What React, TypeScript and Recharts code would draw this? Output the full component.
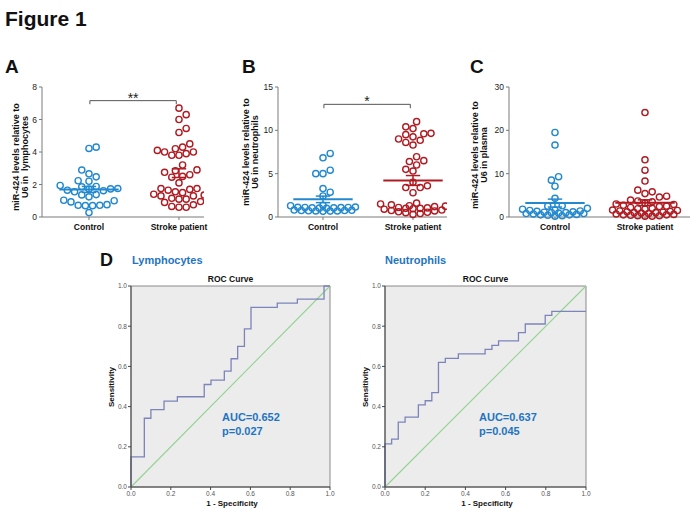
import React from 'react'
import {
  ScatterChart,
  Scatter,
  ComposedChart,
  Line,
  XAxis,
  YAxis,
  ReferenceLine,
  ReferenceDot,
  ReferenceArea,
} from 'recharts'

const GROUPS = ['Control', 'Stroke patient']

// A: lymphocytes
const LYMPH_CONTROL = [4.3, 4.22, 2.89, 2.66, 2.47, 2.23, 2.2, 1.94, 1.88, 1.86, 1.75, 1.73, 1.72, 1.65, 1.62, 1.55, 1.38, 1.36, 1.24, 1.03, 1.0, 0.93, 0.72, 0.7, 0.7, 0.72, 0.76, 0.27]
const LYMPH_STROKE = [6.7, 6.3, 6.0, 5.45, 5.2, 4.5, 4.3, 4.2, 4.1, 4.0, 4.0, 3.9, 3.8, 3.8, 3.2, 2.9, 2.85, 2.75, 2.6, 2.5, 2.45, 2.1, 1.75, 1.75, 1.7, 1.65, 1.55, 1.5, 1.4, 1.35, 1.3, 1.3, 1.15, 1.1, 1.1, 0.95, 0.9, 0.75, 0.65, 0.6, 0.6]
const LYMPH_TICKS = [0, 2, 4, 6, 8]

// B: neutrophils
const NEUT_CONTROL = [7.33, 6.83, 5.4, 5.0, 5.0, 3.28, 2.86, 2.43, 1.35, 1.3, 1.15, 1.12, 1.1, 1.1, 1.08, 1.05, 1.05, 1.02, 1.0, 0.8, 0.78, 0.75, 0.75, 0.72, 0.7, 0.7, 0.68, 0.65]
const NEUT_STROKE = [11.0, 10.4, 10.2, 9.65, 9.6, 9.5, 9.25, 9.0, 8.85, 8.6, 8.3, 6.95, 6.5, 6.4, 6.0, 5.5, 5.3, 4.0, 3.6, 3.4, 3.4, 2.8, 1.6, 1.5, 1.4, 1.3, 1.25, 1.2, 1.1, 1.05, 1.0, 1.0, 0.95, 0.9, 0.8, 0.75, 0.7, 0.6, 0.55, 0.5, 0.4, 0.3]
const NEUT_TICKS = [0, 5, 10, 15]

// C: plasma
const PLASMA_CONTROL = [19.5, 16.6, 9.3, 8.5, 7.1, 4.3, 2.6, 2.5, 2.0, 1.8, 1.6, 1.5, 1.4, 1.3, 1.2, 1.1, 1.0, 1.0, 0.9, 0.8, 0.8, 0.7, 0.6, 0.5, 0.5, 0.4, 0.3, 0.2]
const PLASMA_STROKE = [24.1, 13.2, 10.8, 8.3, 6.2, 5.8, 5.4, 4.8, 4.6, 3.9, 3.7, 3.5, 3.2, 3.0, 2.9, 2.7, 2.5, 2.4, 2.2, 2.0, 1.9, 1.8, 1.6, 1.5, 1.4, 1.3, 1.2, 1.1, 1.0, 1.0, 0.9, 0.8, 0.7, 0.6, 0.5, 0.5, 0.4, 0.3, 0.3, 0.2, 0.2]
const PLASMA_TICKS = [0, 10, 20, 30]

// D: ROC curves (1 - specificity, sensitivity)
const LYMPH_FPR = [0, 0, 0.067, 0.1, 0.166, 0.233, 0.368, 0.402, 0.469, 0.503, 0.536, 0.57, 0.603, 0.735, 0.836, 0.97, 1.0]
const LYMPH_TPR = [0, 0.15, 0.342, 0.385, 0.427, 0.449, 0.51, 0.532, 0.576, 0.638, 0.7, 0.787, 0.894, 0.915, 0.935, 1.0, 1.0]
const NEUT_FPR = [0, 0, 0.033, 0.066, 0.1, 0.166, 0.2, 0.233, 0.266, 0.3, 0.365, 0.498, 0.532, 0.565, 0.664, 0.698, 0.797, 0.83, 1.0]
const NEUT_TPR = [0, 0.215, 0.238, 0.323, 0.348, 0.409, 0.429, 0.47, 0.62, 0.64, 0.662, 0.685, 0.705, 0.727, 0.768, 0.811, 0.854, 0.874, 0.874]
const ROC_TICKS = [0, 0.2, 0.4, 0.6, 0.8, 1.0]

const FONT = 'Arial, "Liberation Sans", Helvetica, sans-serif'
const BLUE = '#2389cf'
const RED = '#b01b22'
const TEXT_BLUE = '#1f74c2'
const PX_PER_CAT = 90
const PLOT_H = 130

// beeswarm in pixel space: keep circles apart, but let them overlap a bit
// when a row gets too wide (dense bottoms of B and C)
function swarm(values: number[], cat: number, pxPerUnit: number) {
  const STEP = 3.6
  const MAX_OFF = 33
  const LEVELS = [7, 6, 5, 4.3, 3.6, 2.8]
  const placed: { ox: number; oy: number }[] = []
  const out: { x: number; y: number }[] = []
  const sorted = [...values].sort((a, b) => a - b)
  const kMax = Math.floor(MAX_OFF / STEP)
  sorted.forEach((v, i) => {
    const oy = v * pxPerUnit
    let ox = 0
    let found = false
    for (const min of LEVELS) {
      for (let k = 0; k <= kMax && !found; k++) {
        const cands = k === 0 ? [0] : i % 2 ? [k, -k] : [-k, k]
        const hit = cands.find((c) =>
          placed.every((p) => (p.ox - c * STEP) ** 2 + (p.oy - oy) ** 2 >= min * min)
        )
        if (hit !== undefined) {
          ox = hit * STEP
          found = true
        }
      }
      if (found) break
    }
    placed.push({ ox, oy })
    out.push({ x: cat + ox / PX_PER_CAT, y: v })
  })
  return out
}

function meanSem(v: number[]) {
  const n = v.length
  const m = v.reduce((a, b) => a + b, 0) / n
  const sd = Math.sqrt(v.reduce((a, b) => a + (b - m) ** 2, 0) / (n - 1))
  return { m, sem: sd / Math.sqrt(n) }
}

const ring = (color: string) => (props: any) => (
  <circle cx={props.cx} cy={props.cy} r={3.1} fill="none" stroke={color} strokeWidth={1.4} />
)

interface DotPanelProps {
  left: number
  width: number
  axisW: number
  yMax: number
  ticks: number[]
  control: number[]
  stroke: number[]
  domain: [number, number]
  sig?: string
  sigY?: number
  sigDrop?: number
}

function DotPanel({ left, width, axisW, yMax, ticks, control, stroke, domain, sig, sigY, sigDrop }: DotPanelProps) {
  const pxPerUnit = PLOT_H / yMax
  const cData = swarm(control, 0, pxPerUnit)
  const sData = swarm(stroke, 1, pxPerUnit)
  const right = width - axisW - (domain[1] - domain[0]) * PX_PER_CAT

  const summary = (vals: number[], cat: number, color: string) => {
    const { m, sem } = meanSem(vals)
    return [
      <ReferenceLine key={`m${cat}`} segment={[{ x: cat - 0.33, y: m }, { x: cat + 0.33, y: m }]} stroke={color} strokeWidth={2} />,
      <ReferenceLine key={`v${cat}`} segment={[{ x: cat, y: m - sem }, { x: cat, y: m + sem }]} stroke={color} strokeWidth={1.5} />,
      <ReferenceLine key={`t${cat}`} segment={[{ x: cat - 0.08, y: m + sem }, { x: cat + 0.08, y: m + sem }]} stroke={color} strokeWidth={1.5} />,
      <ReferenceLine key={`b${cat}`} segment={[{ x: cat - 0.08, y: m - sem }, { x: cat + 0.08, y: m - sem }]} stroke={color} strokeWidth={1.5} />,
    ]
  }

  return (
    <div style={{ position: 'absolute', left, top: 75, width, height: 165 }}>
      <ScatterChart width={width} height={165} margin={{ top: 12, right, left: 0, bottom: 3 }}>
        <XAxis
          type="number"
          dataKey="x"
          domain={domain}
          ticks={[0, 1]}
          interval={0}
          allowDataOverflow
          tickFormatter={(v: number) => GROUPS[v] ?? ''}
          height={20}
          tickSize={3}
          tickMargin={4}
          axisLine={{ stroke: '#7a7a7a' }}
          tickLine={{ stroke: '#7a7a7a' }}
          tick={{ fontSize: 8.5, fontWeight: 'bold', fill: '#111', fontFamily: FONT }}
        />
        <YAxis
          type="number"
          dataKey="y"
          domain={[0, yMax]}
          ticks={ticks}
          interval={0}
          width={axisW}
          tickSize={3}
          tickMargin={2}
          axisLine={{ stroke: '#7a7a7a' }}
          tickLine={{ stroke: '#7a7a7a' }}
          tick={{ fontSize: 8.5, fill: '#222', fontFamily: FONT }}
        />
        {sig && sigY !== undefined && sigDrop !== undefined && [
          <ReferenceLine key="h" segment={[{ x: 0.01, y: sigY }, { x: 0.97, y: sigY }]} stroke="#555" />,
          <ReferenceLine key="l" segment={[{ x: 0.01, y: sigY }, { x: 0.01, y: sigY - sigDrop }]} stroke="#555" />,
          <ReferenceLine key="r" segment={[{ x: 0.97, y: sigY }, { x: 0.97, y: sigY - sigDrop }]} stroke="#555" />,
          <ReferenceDot
            key="s"
            x={0.49}
            y={sigY}
            r={1}
            fill="none"
            stroke="none"
            label={{ value: sig, position: 'top', offset: -3, fontSize: 14, fill: '#222', fontFamily: FONT }}
          />,
        ]}
        <Scatter data={cData} shape={ring(BLUE)} isAnimationActive={false} />
        <Scatter data={sData} shape={ring(RED)} isAnimationActive={false} />
        {summary(control, 0, BLUE)}
        {summary(stroke, 1, RED)}
      </ScatterChart>
    </div>
  )
}

function RocPanel({ left, width, fpr, tpr }: { left: number; width: number; fpr: number[]; tpr: number[] }) {
  const data = fpr.map((x, i) => ({ fpr: x, tpr: tpr[i] }))
  const tickStyle = { fontSize: 6.5, fill: '#555', fontFamily: FONT }
  return (
    <div style={{ position: 'absolute', left, top: 270, width, height: 245 }}>
      <ComposedChart width={width} height={245} data={data} margin={{ top: 16, right: 10, left: 0, bottom: 0 }}>
        <XAxis
          type="number"
          dataKey="fpr"
          domain={[0, 1]}
          ticks={ROC_TICKS}
          interval={0}
          tickFormatter={(v: number) => v.toFixed(1)}
          height={28}
          tickSize={3}
          tickMargin={1}
          axisLine={{ stroke: '#444' }}
          tickLine={{ stroke: '#444' }}
          tick={tickStyle}
        />
        <YAxis
          type="number"
          domain={[0, 1]}
          ticks={ROC_TICKS}
          interval={0}
          tickFormatter={(v: number) => v.toFixed(1)}
          width={31}
          tickSize={3}
          tickMargin={1}
          axisLine={{ stroke: '#444' }}
          tickLine={{ stroke: '#444' }}
          tick={tickStyle}
        />
        <ReferenceArea x1={0} x2={1} y1={0} y2={1} fill="#ececec" fillOpacity={1} stroke="#8a8a8a" />
        <ReferenceLine segment={[{ x: 0, y: 0 }, { x: 1, y: 1 }]} stroke="#93d293" strokeWidth={1.1} />
        <Line dataKey="tpr" type="stepAfter" stroke="#7c84b9" strokeWidth={1.3} dot={false} isAnimationActive={false} />
      </ComposedChart>
    </div>
  )
}

function YLabel({ x1, x2, y, line2 }: { x1: number; x2: number; y: number; line2: string }) {
  return (
    <g fontSize={9} fontWeight="bold" fill="#111">
      <text transform={`translate(${x1},${y}) rotate(-90)`} textAnchor="middle">
        miR-424 levels relative to
      </text>
      <text transform={`translate(${x2},${y}) rotate(-90)`} textAnchor="middle" style={{ whiteSpace: 'pre' }}>
        {line2}
      </text>
    </g>
  )
}

export default function App() {
  return (
    <div style={{ position: 'absolute', left: 0, top: 0, width: 700, height: 517, background: '#fff', fontFamily: FONT }}>
      <DotPanel left={0} width={214} axisW={42} yMax={8} ticks={LYMPH_TICKS} control={LYMPH_CONTROL} stroke={LYMPH_STROKE} domain={[-0.522, 1.278]} sig="**" sigY={7.16} sigDrop={0.22} />
      <DotPanel left={235} width={222} axisW={43} yMax={15} ticks={NEUT_TICKS} control={NEUT_CONTROL} stroke={NEUT_STROKE} domain={[-0.5, 1.378]} sig="*" sigY={13.0} sigDrop={0.45} />
      <DotPanel left={466} width={232} axisW={43} yMax={30} ticks={PLASMA_TICKS} control={PLASMA_CONTROL} stroke={PLASMA_STROKE} domain={[-0.511, 1.5]} />
      <RocPanel left={100} width={240} fpr={LYMPH_FPR} tpr={LYMPH_TPR} />
      <RocPanel left={354} width={242} fpr={NEUT_FPR} tpr={NEUT_TPR} />

      <svg width={700} height={517} style={{ position: 'absolute', left: 0, top: 0, pointerEvents: 'none' }} fontFamily={FONT}>
        <text x={5} y={26} fontSize={21} fontWeight="bold" fill="#111">Figure 1</text>
        <text x={5} y={73} fontSize={19} fontWeight="bold" fill="#111">A</text>
        <text x={242} y={73} fontSize={19} fontWeight="bold" fill="#111">B</text>
        <text x={470} y={73} fontSize={19} fontWeight="bold" fill="#111">C</text>
        <text x={100} y={266} fontSize={18} fontWeight="bold" fill="#111">D</text>

        <YLabel x1={19} x2={28} y={157} line2="U6 in  lymphocytes" />
        <YLabel x1={249} x2={258} y={152} line2="U6 in neutrophils" />
        <YLabel x1={478} x2={487} y={155} line2="U6 in plasma" />

        <text x={132} y={264} fontSize={11} fontWeight="bold" fill={TEXT_BLUE}>Lymphocytes</text>
        <text x={385} y={264} fontSize={11} fontWeight="bold" fill={TEXT_BLUE}>Neutrophils</text>

        <text x={230.5} y={282} fontSize={8.5} fontWeight="bold" textAnchor="middle" fill="#111">ROC Curve</text>
        <text x={485.5} y={282} fontSize={8.5} fontWeight="bold" textAnchor="middle" fill="#111">ROC Curve</text>
        <text x={232} y={506} fontSize={8} fontWeight="bold" textAnchor="middle" fill="#111">1 - Specificity</text>
        <text x={487} y={506} fontSize={8} fontWeight="bold" textAnchor="middle" fill="#111">1 - Specificity</text>
        <text transform="translate(114,387) rotate(-90)" fontSize={8} fontWeight="bold" textAnchor="middle" fill="#111">Sensitivity</text>
        <text transform="translate(368,387) rotate(-90)" fontSize={8} fontWeight="bold" textAnchor="middle" fill="#111">Sensitivity</text>

        <text x={222} y={421} fontSize={11} fontWeight="bold" fill={TEXT_BLUE}>AUC=0.652</text>
        <text x={222} y={435} fontSize={11} fontWeight="bold" fill={TEXT_BLUE}>p=0.027</text>
        <text x={479} y={421} fontSize={11} fontWeight="bold" fill={TEXT_BLUE}>AUC=0.637</text>
        <text x={479} y={435} fontSize={11} fontWeight="bold" fill={TEXT_BLUE}>p=0.045</text>
      </svg>
    </div>
  )
}
